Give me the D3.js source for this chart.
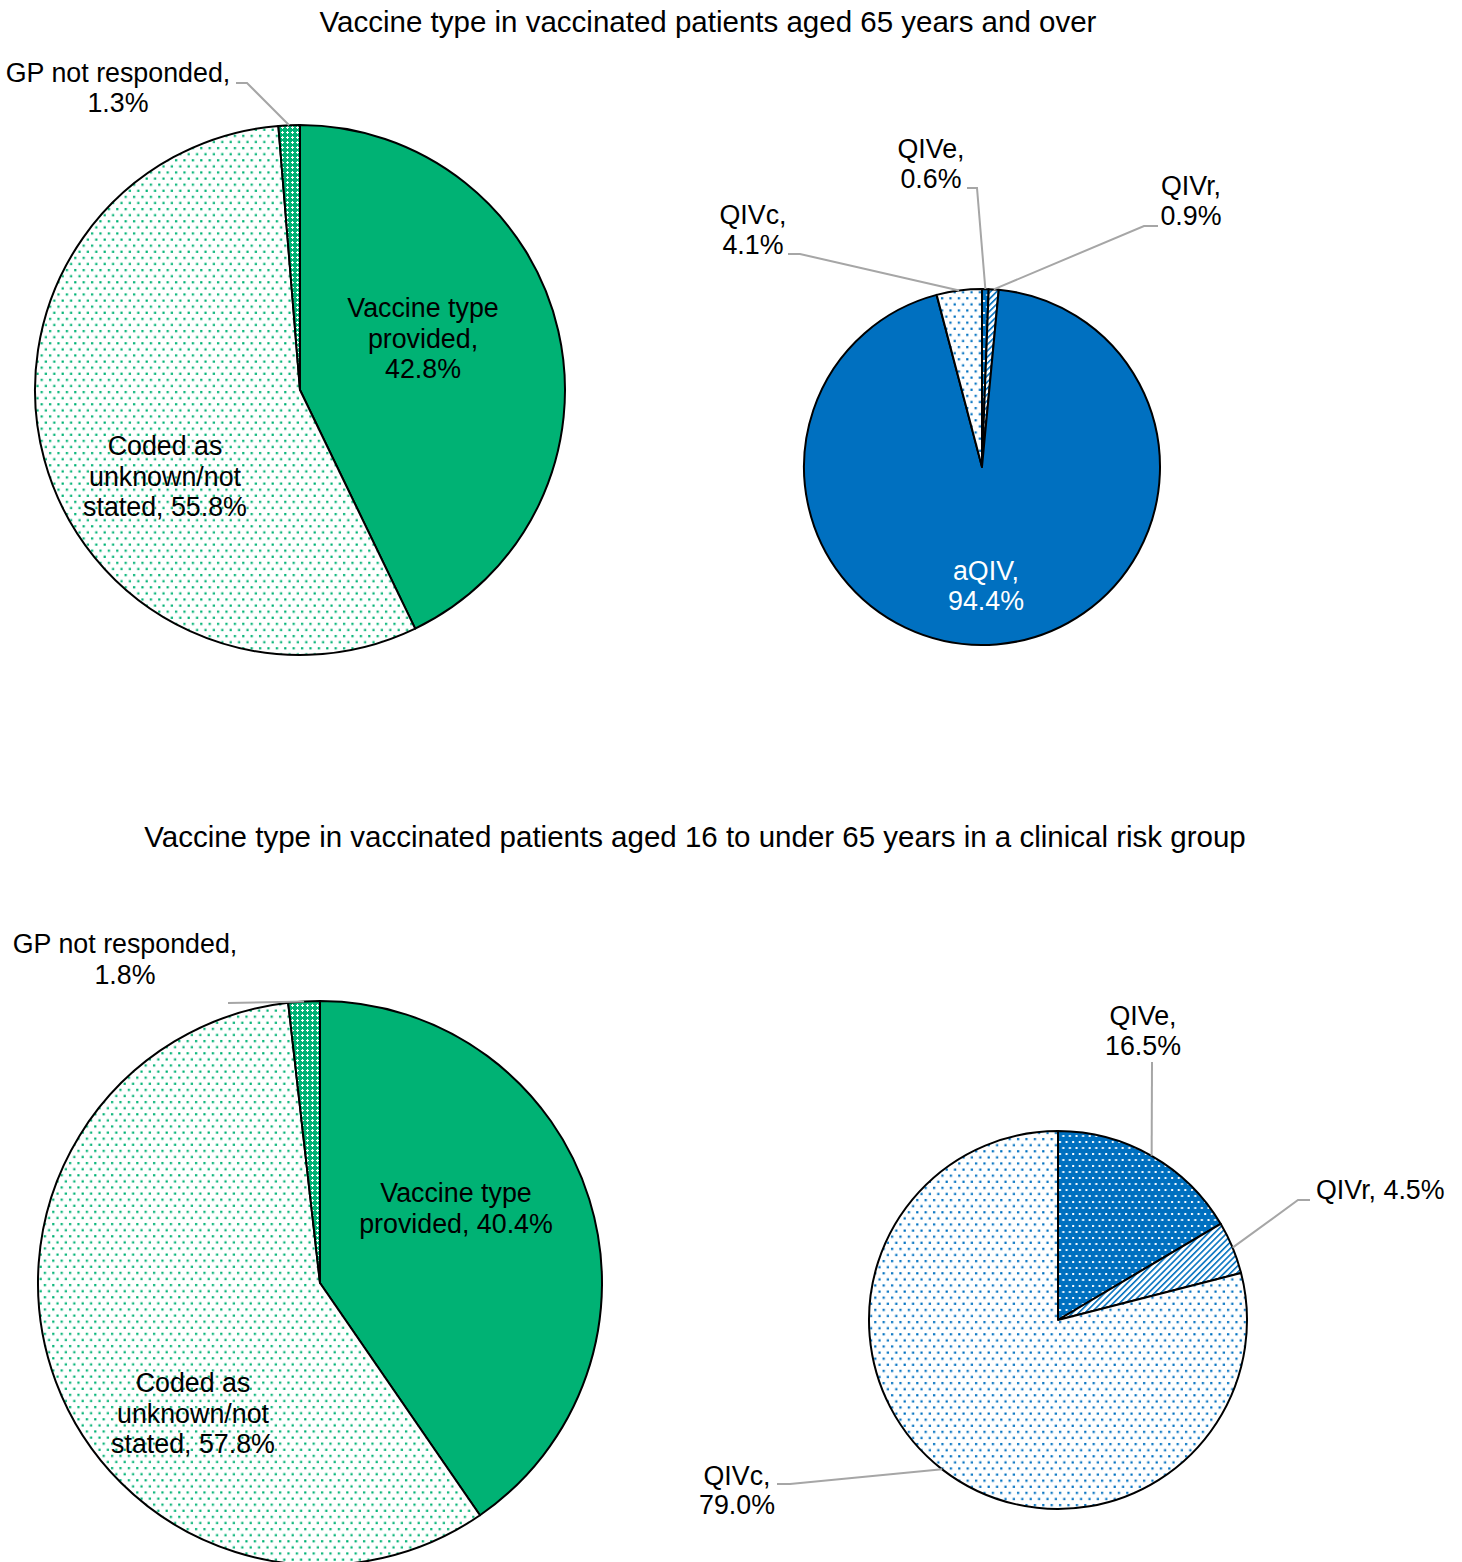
<!DOCTYPE html>
<html>
<head>
<meta charset="utf-8">
<script src="https://cdn.jsdelivr.net/npm/d3@7"></script>
<style>
  html, body { margin: 0; padding: 0; background: #fff; }
  svg { display: block; font-family: "Liberation Sans", Arial, sans-serif; }
</style>
</head>
<body>
<svg id="chart" width="1462" height="1562"></svg>
<script>
// ---- data ----
const titles = [
  "Vaccine type in vaccinated patients aged 65 years and over",
  "Vaccine type in vaccinated patients aged 16 to under 65 years in a clinical risk group"
];

// Response status (green pies)
const statusCategories = ["Vaccine type provided", "Coded as unknown/not stated", "GP not responded"];
const statusOver65 = [42.8, 55.8, 1.3];
const statusRisk = [40.4, 57.8, 1.8];

// Vaccine type breakdown (blue pies)
const typeOver65Categories = ["QIVe", "QIVr", "aQIV", "QIVc"];
const typeOver65Values = [0.6, 0.9, 94.4, 4.1];
const typeRiskCategories = ["QIVe", "QIVr", "QIVc"];
const typeRiskValues = [16.5, 4.5, 79.0];

// ---- styling ----
const GREEN = "#00b274";
const BLUE = "#0070c0";
const LEADER = "#a6a6a6";
const LABEL_SIZE = 26.8;
const TITLE_SIZE = 29.5;

const svg = d3.select("#chart");
const defs = svg.append("defs");

function dotsOnWhite(id, color) {
  const p = defs.append("pattern").attr("id", id)
    .attr("patternUnits", "userSpaceOnUse").attr("width", 8.4).attr("height", 12.2);
  p.append("rect").attr("width", 8.4).attr("height", 12.2).attr("fill", "#fff");
  p.append("rect").attr("x", 1).attr("y", 1).attr("width", 2.2).attr("height", 2.2).attr("fill", color);
  p.append("rect").attr("x", 5.2).attr("y", 7.1).attr("width", 2.2).attr("height", 2.2).attr("fill", color);
}
function whiteDotsOn(id, color) {
  const p = defs.append("pattern").attr("id", id)
    .attr("patternUnits", "userSpaceOnUse").attr("width", 6.6).attr("height", 12);
  p.append("rect").attr("width", 6.6).attr("height", 12).attr("fill", color);
  p.append("rect").attr("x", 1).attr("y", 1).attr("width", 2).attr("height", 2).attr("fill", "#fff");
  p.append("rect").attr("x", 4.3).attr("y", 7).attr("width", 2).attr("height", 2).attr("fill", "#fff");
}
function crossOn(id, color) {
  const p = defs.append("pattern").attr("id", id)
    .attr("patternUnits", "userSpaceOnUse").attr("width", 5).attr("height", 5);
  p.append("rect").attr("width", 5).attr("height", 5).attr("fill", color);
  p.append("rect").attr("x", 1).attr("y", 2).attr("width", 3).attr("height", 1).attr("fill", "#fff");
  p.append("rect").attr("x", 2).attr("y", 1).attr("width", 1).attr("height", 3).attr("fill", "#fff");
}
function hatch(id, color) {
  const p = defs.append("pattern").attr("id", id)
    .attr("patternUnits", "userSpaceOnUse").attr("width", 4.4).attr("height", 4.4)
    .attr("patternTransform", "rotate(45)");
  p.append("rect").attr("width", 4.4).attr("height", 4.4).attr("fill", "#fff");
  p.append("rect").attr("x", 0).attr("y", 0).attr("width", 1.6).attr("height", 4.4).attr("fill", color);
}
dotsOnWhite("gDots", GREEN);
crossOn("gCross", GREEN);
dotsOnWhite("bDots", BLUE);
whiteDotsOn("bDense", BLUE);
hatch("bHatch", BLUE);

const statusFill = d3.scaleOrdinal().domain(statusCategories)
  .range([GREEN, "url(#gDots)", "url(#gCross)"]);
const typeFill = d3.scaleOrdinal().domain(["QIVe", "QIVr", "aQIV", "QIVc"])
  .range(["url(#bDense)", "url(#bHatch)", BLUE, "url(#bDots)"]);

// ---- titles ----
svg.append("text").attr("x", 708).attr("y", 32).attr("text-anchor", "middle")
  .attr("font-size", TITLE_SIZE).attr("fill", "#000").text(titles[0]);
svg.append("text").attr("x", 695).attr("y", 847).attr("text-anchor", "middle")
  .attr("font-size", TITLE_SIZE).attr("fill", "#000").text(titles[1]);

const fmt = v => d3.format(".1f")(v) + "%";

// Draws one pie; labels: per-category layout with text lines ("{v}" = value)
function drawPie(cfg) {
  const g = svg.append("g").attr("transform", `translate(${cfg.cx},${cfg.cy})`);
  const data = cfg.categories.map((c, i) => ({ name: c, value: cfg.values[i] }));
  const arcs = d3.pie().sort(null).value(d => d.value)(data);
  const arc = d3.arc().innerRadius(0).outerRadius(cfg.r);

  g.selectAll("path.slice").data(arcs).join("path")
    .attr("class", "slice")
    .attr("d", arc)
    .attr("fill", d => cfg.fill(d.data.name))
    .attr("stroke", "#000").attr("stroke-width", 2).attr("stroke-linejoin", "round");

  arcs.forEach(a => {
    const lab = cfg.labels[a.data.name];
    if (!lab) return;
    const v = fmt(a.data.value);
    // leader line to the slice's mid-angle on the rim
    if (lab.leader) {
      const mid = (a.startAngle + a.endAngle) / 2;
      const ex = cfg.cx + cfg.r * Math.sin(mid);
      const ey = cfg.cy - cfg.r * Math.cos(mid);
      const [sx, sy, elbow] = lab.leader;
      const pts = [[sx, sy], [sx + elbow, sy], [ex, ey]];
      svg.append("path").attr("d", d3.line()(pts))
        .attr("fill", "none").attr("stroke", LEADER).attr("stroke-width", 2);
    }
    const t = svg.append("text").attr("x", lab.x).attr("y", lab.y)
      .attr("text-anchor", lab.anchor || "middle")
      .attr("font-size", LABEL_SIZE).attr("fill", lab.color || "#000");
    lab.lines.forEach((ln, i) => {
      t.append("tspan").attr("x", lab.x).attr("y", lab.y + i * (lab.lh || 30.5))
        .text(ln.replace("{v}", v));
    });
  });
}

drawPie({
  cx: 300, cy: 390, r: 265,
  categories: statusCategories, values: statusOver65, fill: statusFill,
  labels: {
    "Vaccine type provided": { x: 423, y: 317, lines: ["Vaccine type", "provided,", "{v}"] },
    "Coded as unknown/not stated": { x: 165, y: 455, lines: ["Coded as", "unknown/not", "stated, {v}"] },
    "GP not responded": { x: 118, y: 82, lh: 30, lines: ["GP not responded,", "{v}"], leader: [236, 83, 11] }
  }
});

drawPie({
  cx: 982, cy: 467, r: 178,
  categories: typeOver65Categories, values: typeOver65Values, fill: typeFill,
  labels: {
    "QIVe": { x: 931, y: 158, lh: 30, lines: ["QIVe,", "{v}"], leader: [967, 188, 10] },
    "QIVr": { x: 1191, y: 195, lh: 30, lines: ["QIVr,", "{v}"], leader: [1158, 226, -14] },
    "QIVc": { x: 753, y: 224, lh: 30, lines: ["QIVc,", "{v}"], leader: [788, 254, 12] },
    "aQIV": { x: 986, y: 580, lh: 30, color: "#fff", lines: ["aQIV,", "{v}"] }
  }
});

drawPie({
  cx: 320, cy: 1283, r: 282,
  categories: statusCategories, values: statusRisk, fill: statusFill,
  labels: {
    "Vaccine type provided": { x: 456, y: 1202, lines: ["Vaccine type", "provided, {v}"] },
    "Coded as unknown/not stated": { x: 193, y: 1392, lines: ["Coded as", "unknown/not", "stated, {v}"] },
    "GP not responded": { x: 125, y: 953, lh: 31, lines: ["GP not responded,", "{v}"], leader: [228, 1003, 0] }
  }
});

drawPie({
  cx: 1058, cy: 1320, r: 189,
  categories: typeRiskCategories, values: typeRiskValues, fill: typeFill,
  labels: {
    "QIVe": { x: 1143, y: 1025, lh: 30, lines: ["QIVe,", "{v}"], leader: [1152, 1062, 0] },
    "QIVr": { x: 1316, y: 1199, anchor: "start", lines: ["QIVr, {v}"], leader: [1310, 1200, -12] },
    "QIVc": { x: 737, y: 1485, lh: 29, lines: ["QIVc,", "{v}"], leader: [777, 1484, 13] }
  }
});
</script>
</body>
</html>
